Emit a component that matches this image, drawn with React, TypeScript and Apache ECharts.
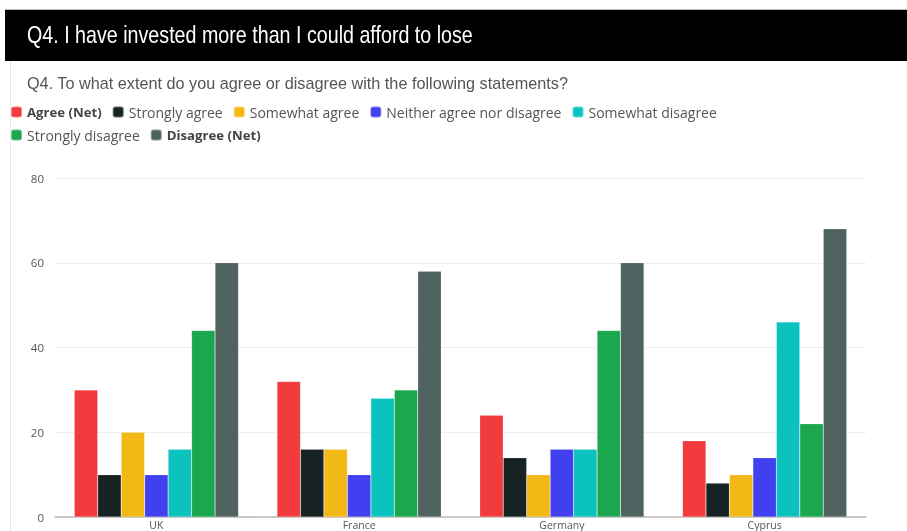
import React, { useEffect, useRef } from "react";
import * as echarts from "echarts";

const categories = ["UK", "France", "Germany", "Cyprus"];
const seriesNames = [
  "Agree (Net)",
  "Strongly agree",
  "Somewhat agree",
  "Neither agree nor disagree",
  "Somewhat disagree",
  "Strongly disagree",
  "Disagree (Net)",
];
const agreeNet = [30, 32, 24, 18];
const stronglyAgree = [10, 16, 14, 8];
const somewhatAgree = [20, 16, 10, 10];
const neither = [10, 10, 16, 14];
const somewhatDisagree = [16, 28, 16, 46];
const stronglyDisagree = [44, 30, 44, 22];
const disagreeNet = [60, 58, 60, 68];
const seriesValues = [agreeNet, stronglyAgree, somewhatAgree, neither, somewhatDisagree, stronglyDisagree, disagreeNet];
const colors = ["#F23B3C", "#172323", "#F2B816", "#4140F0", "#0CC2BF", "#1BA74E", "#4E625F"];
const yTicks = { min: 0, max: 80, interval: 20 };
const boldNames = ["Agree (Net)", "Disagree (Net)"];
const titleText = "Q4. I have invested more than I could afford to lose";
const subtitleText = "Q4. To what extent do you agree or disagree with the following statements?";

export default function App() {
  const ref = useRef<HTMLDivElement>(null);
  useEffect(() => {
    if (!ref.current) return;
    const chart = echarts.init(ref.current, null, { renderer: "svg" });
    const fmt = (n: string) => (boldNames.includes(n) ? `{b|${n}}` : `{r|${n}}`);
    const ff = "'Open Sans', sans-serif";
    const legendText = {
      color: "#555",
      fontSize: 14,
      fontFamily: ff,
      rich: {
        b: { fontWeight: "bold", color: "#444", fontSize: 13.2, fontFamily: ff },
        r: { color: "#555", fontSize: 14, fontFamily: ff },
      },
    };
    const legendBase = {
      left: 10,
      icon: "roundRect",
      itemWidth: 11,
      itemHeight: 11,
      itemGap: 10,
      formatter: fmt,
      textStyle: legendText,
      padding: 0,
    };
    chart.setOption({
      animation: false,
      color: colors,
      graphic: [
        { type: "rect", shape: { x: 5, y: 10, width: 902, height: 51 }, style: { fill: "#000" }, z: -1 },
        { type: "line", shape: { x1: 5, y1: 9.5, x2: 907, y2: 9.5 }, style: { stroke: "#bbb", lineWidth: 1 } },
        { type: "line", shape: { x1: 10.5, y1: 61, x2: 10.5, y2: 531 }, style: { stroke: "#e6e6e6", lineWidth: 1 } },
        {
          type: "text",
          x: 27,
          y: 35,
          scaleX: 0.82,
          style: {
            text: titleText,
            fill: "#fff",
            font: "24px 'Liberation Sans', Arial, sans-serif",
            textVerticalAlign: "middle",
          },
        },
        {
          type: "text",
          x: 27,
          y: 83,
          scaleX: 1.015,
          style: {
            text: subtitleText,
            fill: "#555",
            font: "16px 'Liberation Sans', Arial, sans-serif",
            textVerticalAlign: "middle",
          },
        },
      ],
      legend: [
        { ...legendBase, data: seriesNames.slice(0, 5), top: 105 },
        { ...legendBase, data: seriesNames.slice(5), top: 128 },
      ],
      grid: { left: 55, right: 41, top: 178, bottom: 14, containLabel: false },
      xAxis: {
        type: "category",
        data: categories,
        axisTick: { show: false },
        axisLine: { lineStyle: { color: "#bbb", width: 1.5 } },
        axisLabel: { color: "#555", fontSize: 10.5, margin: 2, lineHeight: 12, fontFamily: ff },
      },
      yAxis: {
        type: "value",
        min: yTicks.min,
        max: yTicks.max,
        interval: yTicks.interval,
        axisLine: { show: false },
        axisTick: { show: false },
        splitLine: { lineStyle: { color: "#eee" } },
        axisLabel: { color: "#555", fontSize: 11.5, margin: 11, fontFamily: ff },
      },
      series: seriesNames.map((name, i) => ({
        name,
        type: "bar",
        data: seriesValues[i],
        barGap: "0%",
        barCategoryGap: "19%",
        itemStyle: { color: colors[i], borderColor: "rgba(255,255,255,0.35)", borderWidth: 0.5 },
      })),
    });
    return () => chart.dispose();
  }, []);
  return <div ref={ref} style={{ position: "fixed", left: 0, top: 0, width: 907, height: 531 }} />;
}
